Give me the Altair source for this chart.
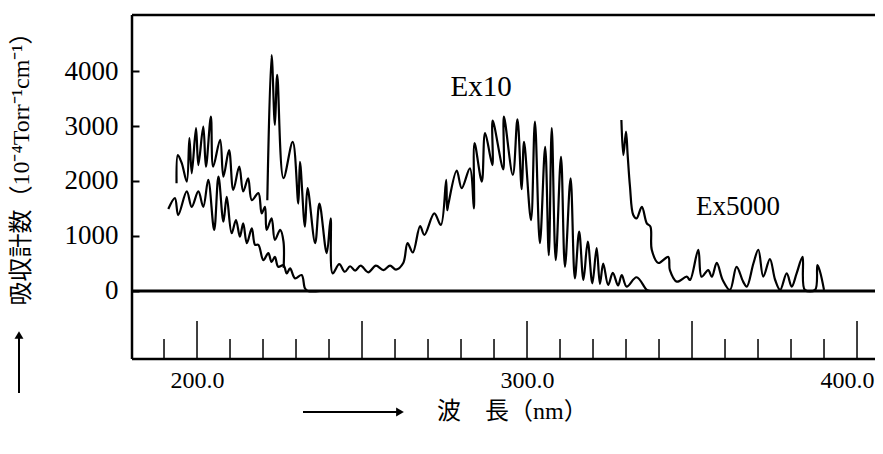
import altair as alt
import pandas as pd

# ---------------- data ----------------
# lower curve (starts ~191 nm)
a_nm = [191.3, 193.3, 194.3, 196.9, 198.4, 200.4, 201.9, 203.4, 205.2, 206.5, 208.0, 209.0,
        210.5, 211.8, 213.0, 214.0, 215.1, 216.6, 217.6, 218.6, 220.1, 221.6, 222.6, 223.6,
        224.6, 226.2, 227.2, 228.2, 229.7, 231.7, 232.7, 233.6, 237.3]
a_val = [1490, 1690, 1380, 1810, 1530, 1810, 1530, 2020, 1110, 2080, 1260, 1710,
         1050, 1290, 990, 1230, 870, 1140, 840, 840, 560, 690, 530, 620,
         440, 470, 320, 410, 230, 290, 50, 0, 0]

# upper-left curve
b_nm = [193.8, 194.2, 195.4, 196.9, 197.7, 198.4, 199.7, 200.4, 201.9, 202.7, 204.2, 204.9,
        207.0, 208.0, 209.7, 211.0, 212.8, 214.0, 215.5, 216.6, 218.6, 219.6, 220.6, 221.1,
        222.6, 223.6, 225.2, 226.2, 226.25]
b_val = [1960, 2470, 2320, 1990, 2780, 2140, 2960, 2290, 2990, 2260, 3170, 2260,
         2750, 2080, 2560, 1840, 2260, 1810, 2050, 1650, 1780, 1410, 1530, 1110,
         1320, 930, 1110, 900, 420]

# main curve from 221 nm through the Ex10 band
c_nm = [221.3, 222.6, 223.6, 224.3, 226.2, 229.0, 230.7, 231.2, 232.7, 233.5, 235.8, 237.1,
        239.3, 240.5, 241.1, 243.1, 244.8, 246.4, 247.9, 249.6, 251.9, 254.2, 256.5, 258.5,
        260.3, 262.5, 263.8, 265.4, 267.6, 268.9, 271.9, 273.9, 275.5, 275.8, 276.2, 278.7,
        280.2, 282.7, 283.9, 284.1, 286.3, 287.3, 289.5, 289.6, 292.8, 293.0, 295.7, 297.1,
        298.4, 299.1, 301.2, 302.4, 303.9, 305.5, 306.6, 307.5, 308.7, 310.3, 311.5, 313.2,
        314.5, 315.8, 317.1, 318.4, 319.8, 321.1, 322.1, 323.1, 324.6, 326.0, 327.6, 328.7,
        330.2, 333.2, 336.3, 337.3]
c_val = [1650, 4290, 3020, 3930, 2050, 2710, 1590, 2350, 1170, 1870, 870, 1590,
         690, 1320, 320, 490, 350, 450, 370, 460, 340, 460, 380, 460,
         390, 510, 870, 700, 1180, 1020, 1410, 1200, 2020, 1470, 1590, 2190,
         1870, 2230, 1500, 2690, 1990, 2870, 2290, 3100, 2210, 3170, 2110, 3120,
         1850, 2710, 1290, 3080, 870, 2620, 650, 2960, 560, 2440, 440, 2050,
         230, 1080, 200, 900, 140, 780, 130, 500, 110, 330, 100, 290,
         80, 250, 20, 0]

# Ex5000 curve
d_nm = [328.6, 329.2, 330.0, 330.5, 331.2, 332.2, 333.2, 334.8, 336.3, 337.4, 337.8, 339.8,
        342.8, 343.3, 345.4, 348.4, 349.4, 351.9, 352.9, 354.9, 356.0, 357.5, 359.3, 361.5,
        363.5, 365.5, 366.6, 368.6, 370.1, 371.6, 373.6, 375.2, 376.7, 378.7, 380.2, 381.7,
        383.5, 384.2, 387.3, 388.0, 388.8, 390.0]
d_val = [3110, 2470, 2900, 2470, 1900, 1380, 1320, 1530, 1230, 1170, 750, 510,
         620, 380, 170, 260, 200, 750, 260, 380, 260, 510, 200, 20,
         440, 170, 80, 500, 750, 260, 580, 200, 20, 320, 80, 320,
         620, 20, 20, 470, 350, 20]

minor_ticks = [190, 210, 220, 230, 240, 260, 270, 280, 290, 310, 320, 330, 340,
               360, 370, 380, 390]
major_ticks = [200, 250, 300, 350, 400]
y_tick_values = [0, 1000, 2000, 3000, 4000]
x_label_values = [200, 300, 400]

notes = ["Ex10", "Ex5000"]
note_nm = [286.1, 363.9]
note_val = [3710, 1530]
note_size = [29, 27]

y_title = "吸収計数（10⁻⁴Torr⁻¹cm⁻¹）"
x_title = "波　長（nm）"

# ---------------- build chart ----------------
W, H = 743, 344
SERIF = "Liberation Serif, Noto Sans CJK JP"

rows = []
for name, xs, ys in [("A", a_nm, a_val), ("B", b_nm, b_val), ("C", c_nm, c_val), ("D", d_nm, d_val)]:
    for i, (x, y) in enumerate(zip(xs, ys)):
        rows.append({"series": name, "nm": x, "val": y, "idx": i})
df = pd.DataFrame(rows)

xsc = alt.Scale(domain=[180.3, 405.45], nice=False, zero=False)
ysc = alt.Scale(domain=[-1236.4, 5018.2], nice=False, zero=False)

xax = alt.Axis(values=x_label_values, format=".1f", title=None, ticks=False, domain=False,
               grid=False, labelFont="Liberation Serif", labelFontSize=24, labelPadding=9,
               labelColor="black", labelFlush=20, labelFlushOffset=17, labelOverlap=False)
yax = alt.Axis(values=y_tick_values, format="d", title=None, grid=False, domain=False,
               tickSize=7, tickWidth=2, tickColor="black", offset=-7, labelPadding=14,
               labelFont="Liberation Serif", labelFontSize=27, labelColor="black")

one = pd.DataFrame({"k": [0]})

lines = alt.Chart(df).mark_line(color="black", strokeWidth=2.2, interpolate="catmull-rom").encode(
    x=alt.X("nm:Q", scale=xsc, axis=xax),
    y=alt.Y("val:Q", scale=ysc, axis=yax),
    detail="series:N",
    order="idx:Q",
)

zero_line = alt.Chart(pd.DataFrame({"val": [0]})).mark_rule(color="black", strokeWidth=3).encode(
    y=alt.Y("val:Q", scale=ysc, axis=yax), x=alt.value(0), x2=alt.value(W))

frame_top = alt.Chart(one).mark_rule(color="black", strokeWidth=2.5).encode(
    x=alt.value(0), x2=alt.value(W), y=alt.value(0))
frame_bottom = alt.Chart(one).mark_rule(color="black", strokeWidth=2.5).encode(
    x=alt.value(0), x2=alt.value(W), y=alt.value(H))
frame_left = alt.Chart(one).mark_rule(color="black", strokeWidth=2.5).encode(
    x=alt.value(0), y=alt.value(0), y2=alt.value(H))

minor = alt.Chart(pd.DataFrame({"nm": minor_ticks})).mark_rule(color="black", strokeWidth=1.5).encode(
    x=alt.X("nm:Q", scale=xsc, axis=xax), y=alt.value(H), y2=alt.value(H - 20))
major = alt.Chart(pd.DataFrame({"nm": major_ticks})).mark_rule(color="black", strokeWidth=1.5).encode(
    x=alt.X("nm:Q", scale=xsc, axis=xax), y=alt.value(H), y2=alt.value(H - 38))

note_layer = alt.Chart(pd.DataFrame({"nm": note_nm, "val": note_val, "t": notes, "s": note_size})).mark_text(
    font="Liberation Serif", color="black", align="center", baseline="middle").encode(
    x=alt.X("nm:Q", scale=xsc, axis=xax), y=alt.Y("val:Q", scale=ysc, axis=yax), text="t:N",
    size=alt.Size("s:Q", scale=None, legend=None))

ytitle = alt.Chart(one).mark_text(font=SERIF, fontSize=24, angle=270, color="black",
                                  align="center", baseline="middle").encode(
    x=alt.value(-110), y=alt.value(148), text=alt.value(y_title))
yarrow = alt.Chart(one).mark_rule(color="black", strokeWidth=2).encode(
    x=alt.value(-113), y=alt.value(322), y2=alt.value(378))
yhead = alt.Chart(one).mark_point(shape="triangle-up", filled=True, size=80, color="black", opacity=1).encode(
    x=alt.value(-113), y=alt.value(320))

xtitle = alt.Chart(one).mark_text(font=SERIF, fontSize=24, color="black",
                                  align="left", baseline="middle").encode(
    x=alt.value(305), y=alt.value(397), text=alt.value(x_title))
xarrow = alt.Chart(one).mark_rule(color="black", strokeWidth=2).encode(
    x=alt.value(171), x2=alt.value(266), y=alt.value(397))
xhead = alt.Chart(one).mark_point(shape="triangle-right", filled=True, size=80, color="black", opacity=1).encode(
    x=alt.value(268), y=alt.value(397))

chart = alt.layer(
    minor, major, zero_line, frame_top, frame_bottom, frame_left, lines, note_layer,
    ytitle, yarrow, yhead, xtitle, xarrow, xhead,
).properties(
    width=W, height=H,
    autosize=alt.AutoSizeParams(type="none"),
    padding={"left": 124, "top": 7, "right": 0, "bottom": 80},
    background="white",
).configure_view(stroke=None)

chart.save("out.html", embed_options={"renderer": "svg", "actions": False})
